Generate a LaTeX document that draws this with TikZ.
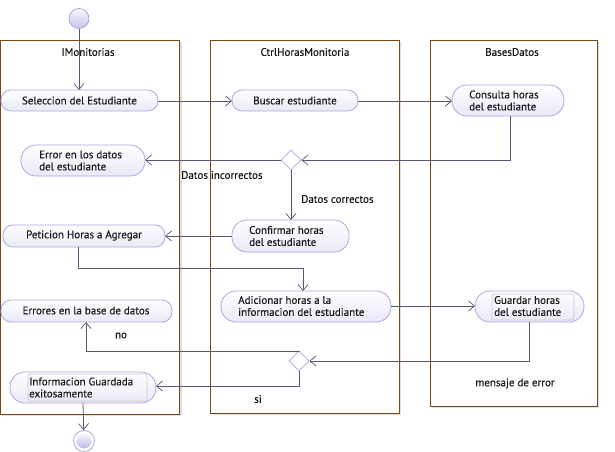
\documentclass[tikz,border=0pt]{standalone}
\usepackage{fontspec}
\setmainfont{PT Sans}[FakeBold=0.35]
\usetikzlibrary{arrows.meta,shapes.geometric,shadings}
\definecolor{lanec}{HTML}{7A4A14}
\definecolor{nodec}{HTML}{A9A9E2}
\definecolor{nodefill}{HTML}{E9E9F8}
\definecolor{edgec}{HTML}{5C5672}
\definecolor{shadowc}{HTML}{C8C8C8}
\tikzset{
  x=1pt,y=-1pt,
  lane/.style={draw=lanec,line width=0.9pt,fill=white},
  act/.style={draw=nodec,line width=0.8pt,rounded corners=10pt,top color=white,bottom color=nodefill,
     inner sep=0pt,font=\fontsize{11}{12}\selectfont,align=left},
  dec/.style={diamond,draw=nodec,line width=0.8pt,fill=white,minimum width=20pt,minimum height=20pt,inner sep=0pt},
  flow/.style={draw=edgec,line width=0.8pt,-{Straight Barb[length=6pt,width=10pt,line width=0.7pt]}},
  lbl/.style={font=\fontsize{11}{12}\selectfont\addfontfeature{FakeBold=0.35},inner sep=0pt,text=black!90},
  inbox/.style={draw=shadowc,line width=0.6pt,rounded corners=2pt},
}
\begin{document}
\begin{tikzpicture}
\useasboundingbox (0,0) rectangle (615,451);
% lanes with shadow
\fill[shadowc!60] (2,42) rectangle (182,416);
\fill[shadowc!60] (212,42) rectangle (401,415);
\fill[shadowc!60] (432,42) rectangle (599,408);
\draw[lane] (0.5,40) rectangle (179.5,414);
\draw[lane] (210,40) rectangle (399,413);
\draw[lane] (430,40) rectangle (597,406);
\node[lbl] (t1) at (88,52) {IMonitorias};
\node[lbl] (t2) at (305,52) {CtrlHorasMonitoria};
\node[lbl] (t3) at (512,52) {BasesDatos};
% start / end
\node[circle,draw=nodec,line width=0.8pt,top color=white!70!nodefill,bottom color=nodec!70,minimum size=20pt,inner sep=0pt] (start) at (79,18.5) {};
\node[circle,draw=nodec,line width=0.8pt,fill=white,minimum size=21pt,inner sep=0pt] (end) at (84,441) {};
\node[circle,top color=white!60!nodefill,bottom color=nodec!80,minimum size=15pt,inner sep=0pt] (endin) at (84,441) {};
% activities
\path[act] (1,90) rectangle (158,111);
\node[lbl] (sel) at (79.5,100.5) {Seleccion del Estudiante};
\coordinate (selE) at (158,101);
\coordinate (selN) at (79,90);

\path[act] (232,90) rectangle (358,111);
\node[lbl] (bus) at (295,100.5) {Buscar estudiante};
\coordinate (busW) at (232,101);
\coordinate (busE) at (358,101);

\path[act,rounded corners=15pt] (452,85) rectangle (564,116);
\node[lbl,align=left,anchor=west] (con) at (469,100.5) {Consulta horas\\del estudiante};
\coordinate (conW) at (452,101);
\coordinate (conS) at (510.5,116);

\path[act,rounded corners=15pt] (21,145) rectangle (145,176);
\node[lbl,align=left,anchor=west] (err) at (39,160.5) {Error en los datos\\del estudiante};
\coordinate (errE) at (145,160);

\node[dec] (d1) at (291,160) {};

\path[act,rounded corners=15pt] (232,220) rectangle (349,252);
\node[lbl,align=left,anchor=west] (conf) at (249,236) {Confirmar horas\\del estudiante};
\coordinate (confN) at (291,220);
\coordinate (confW) at (232,236);

\path[act] (3,225) rectangle (165,247);
\node[lbl] (pet) at (84,235.5) {Peticion Horas a Agregar};
\coordinate (petE) at (165,236);
\coordinate (petS) at (78,247);

\path[act,rounded corners=15pt] (221,291) rectangle (391,322);
\node[lbl,align=left,anchor=west] (adi) at (238,306) {Adicionar horas a la\\informacion del estudiante};
\coordinate (adiN) at (303,291);
\coordinate (adiE) at (391,306);

\path[act,rounded corners=15pt] (475,291) rectangle (584,322);
\draw[inbox] (492,294) rectangle (574,320);
\node[lbl,align=left,anchor=west] (gua) at (494,306) {Guardar horas\\del estudiante};
\coordinate (guaW) at (475,306);
\coordinate (guaS) at (529,322);

\path[act] (1,300) rectangle (172,322);
\node[lbl] (erb) at (86,310.5) {Errores en la base de datos};
\coordinate (erbS) at (86,322);

\node[dec] (d2) at (299,361) {};

\path[act,rounded corners=15pt] (10,372) rectangle (156,403);
\draw[inbox] (28,374) rectangle (147,401);
\node[lbl,align=left,anchor=west] (inf) at (29,387.5) {Informacion Guardada\\exitosamente};
\coordinate (infE) at (156,386);
\coordinate (infS) at (83,403);

% edges
\draw[flow] (start) -- (selN);
\draw[flow] (selE) -- (busW);
\draw[flow] (busE) -- (conW);
\draw[flow] (conS) |- (d1.east);
\draw[flow] (d1.west) -- (errE);
\draw[flow] (d1.south) -- (confN);
\draw[flow] (confW) -- (petE);
\draw[flow] (petS) |- (303,268) -- (adiN);
\draw[flow] (adiE) -- (guaW);
\draw[flow] (guaS) |- (d2.east);
\draw[flow] (d2.north) -- (299,351) -| (erbS);
\draw[flow] (d2.south) |- (infE);
\draw[flow] (infS) -- (end);

% labels
\node[lbl,anchor=west] (l1) at (181,175) {Datos incorrectos};
\node[lbl,anchor=west] (l2) at (301,199) {Datos correctos};
\node[lbl] (l3) at (121,335.5) {no};
\node[lbl] (l4) at (258,399) {si};
\node[lbl] (l5) at (515,383.5) {mensaje de error};
\end{tikzpicture}
\end{document}
